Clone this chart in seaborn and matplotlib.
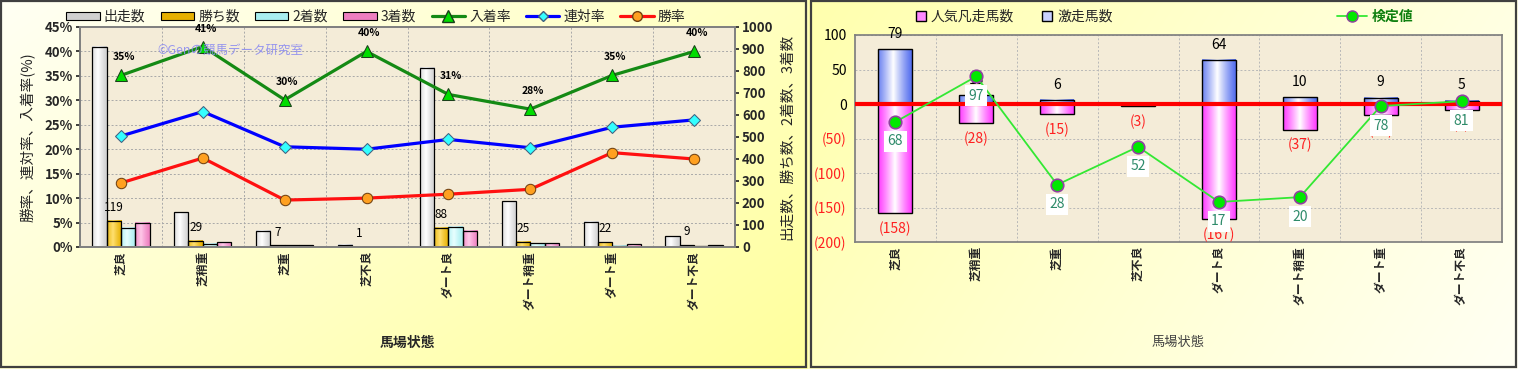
import numpy as np
import pandas as pd
import matplotlib
matplotlib.use("Agg")
import matplotlib.pyplot as plt
import seaborn as sns
from matplotlib.colors import to_rgb
from matplotlib.lines import Line2D
from matplotlib.patches import Patch, Rectangle
from matplotlib.ticker import FixedLocator

# ---------------- data ----------------
categories = ['芝良', '芝稍重', '芝重', '芝不良', 'ダート良', 'ダート稍重', 'ダート重', 'ダート不良']

bar_names = ['出走数', '勝ち数', '2着数', '3着数']
starts = [910, 159, 73, 10, 814, 209, 114, 50]
wins = [119, 29, 7, 1, 88, 25, 22, 9]
seconds = [88, 15, 8, 1, 91, 17, 6, 4]
thirds = [111, 21, 7, 2, 73, 17, 12, 7]

place_rate = [35.1, 41.0, 30.1, 40.0, 31.2, 28.2, 35.1, 40.0]
quinella_rate = [22.7, 27.7, 20.5, 20.0, 22.0, 20.3, 24.5, 26.0]
win_rate = [13.1, 18.2, 9.6, 10.0, 10.8, 11.8, 19.3, 18.0]
place_labels = ['35%', '41%', '30%', '40%', '31%', '28%', '35%', '40%']

surge_counts = [79, 13, 6, 0, 64, 10, 9, 5]
flop_counts = [-158, -28, -15, -3, -167, -37, -16, -8]
test_values = [68, 97, 28, 52, 17, 20, 78, 81]
test_plot_y = [-26, 40, -117, -62, -142, -135, -3, 4]

# ---------------- style ----------------
sns.set_theme(style="white")
plt.rcParams['font.family'] = ['Noto Sans CJK JP', 'DejaVu Sans']
plt.rcParams['axes.unicode_minus'] = False

W, H = 1518, 369
fig = plt.figure(figsize=(W / 100, H / 100), dpi=100)

# background gradients
bg = fig.add_axes([0, 0, 1, 1], zorder=-10)
yy, xx = np.mgrid[0:H, 0:W]
white = np.array(to_rgb('#FFFFF4'))
yellow = np.array(to_rgb('#FFFF9C'))
g = np.zeros((H, W))
left = xx < 808
g[left] = np.clip((xx[left] / 806) * 0.6 + (yy[left] / 369) * 0.4, 0, 1)
right = ~left
g[right] = np.clip(1 - ((xx[right] - 810) / 708) * 0.75 - (yy[right] / 369) * 0.25, 0, 1) * 0.8
img = white[None, None, :] * (1 - g[..., None]) + yellow[None, None, :] * g[..., None]
bg.imshow(img, extent=[0, W, H, 0], aspect='auto')
bg.add_patch(Rectangle((1, 1), 805, 366, fill=False, edgecolor='#404040', lw=1.6))
bg.add_patch(Rectangle((811, 1), 705, 366, fill=False, edgecolor='#404040', lw=1.6))
bg.set_xlim(0, W)
bg.set_ylim(H, 0)
bg.axis('off')


def shade_bars(ax, patches, base, light, peak=0.4):
    base = np.array(to_rgb(base))
    light = np.array(to_rgb(light))
    t = np.linspace(0, 1, 80)
    f = np.clip(1 - np.abs(t - peak) / 0.6, 0, 1) ** 1.2
    row = (1 - f)[:, None] * base[None, :] + f[:, None] * light[None, :]
    im = row[None, :, :]
    for p in patches:
        x0, y0 = p.get_x(), p.get_y()
        w, h = p.get_width(), p.get_height()
        if h == 0:
            continue
        ax.imshow(im, extent=[x0, x0 + w, min(y0, y0 + h), max(y0, y0 + h)],
                  aspect='auto', interpolation='bilinear', zorder=p.get_zorder())
        p.set_facecolor('none')
        p.set_zorder(p.get_zorder() + 0.1)


# ---------------- left chart ----------------
ax_b = fig.add_axes([80 / W, 1 - 247 / H, 655 / W, 220 / H])
ax_b.set_facecolor('#F4ECD8')
bar_colors = ['#D0D0D0', '#E6B000', '#A8EEF0', '#EE7EC0']
bar_lights = ['#FFFFFF', '#FFE070', '#E8FFFF', '#FFC8E8']
df_bar = pd.DataFrame({
    '馬場状態': categories * 4,
    'series': np.repeat(bar_names, len(categories)),
    'value': starts + wins + seconds + thirds,
})
sns.barplot(data=df_bar, x='馬場状態', y='value', hue='series', hue_order=bar_names,
            palette=bar_colors, width=0.7, edgecolor='black', linewidth=0.9,
            errorbar=None, legend=False, ax=ax_b)
for cont, c, lc in zip(ax_b.containers, bar_colors, bar_lights):
    shade_bars(ax_b, cont.patches, c, lc)
ax_b.bar_label(ax_b.containers[1], labels=[str(v) for v in wins], padding=5,
               fontsize=8.5, color='black')

ax_l = ax_b.twinx()

ax_b.set_xlim(-0.5, len(categories) - 0.5)
ax_b.set_ylim(0, 1000)
ax_b.yaxis.tick_right()
ax_b.yaxis.set_label_position('right')
ax_b.set_yticks(np.arange(0, 1001, 100))
ax_b.set_yticklabels([str(v) for v in range(0, 1001, 100)], fontsize=9.5, fontweight='bold')
ax_b.yaxis.set_minor_locator(FixedLocator(np.arange(1, 9) * 1000 / 9))
ax_b.xaxis.set_minor_locator(FixedLocator(np.arange(0.5, len(categories) - 1, 1)))
ax_b.grid(which='minor', axis='both', color='#A8A8A8', linestyle=(0, (2, 2)), linewidth=0.7)
ax_b.grid(which='major', visible=False)
ax_b.set_axisbelow(True)
ax_b.tick_params(axis='y', which='minor', length=0)
ax_b.tick_params(axis='y', which='major', length=3, pad=2)
ax_b.tick_params(axis='x', which='both', length=0, pad=3)
ax_b.set_xticks(range(len(categories)))
ax_b.set_xticklabels(categories, rotation=90, fontsize=8.5, fontweight='bold', va='top')
ax_b.set_xlabel('馬場状態', fontsize=10, fontweight='bold')
ax_b.xaxis.set_label_coords(0.5, -(336 - 247) / 220)
ax_b.set_ylabel('出走数、勝ち数、2着数、3着数', fontsize=10.5, va='center')
ax_b.yaxis.set_label_coords((787 - 80) / 655, 0.5)
for s in ax_b.spines.values():
    s.set_color('#808080')

ax_l.yaxis.tick_left()
ax_l.yaxis.set_label_position('left')
xpos = np.arange(len(categories))
sns.lineplot(x=xpos, y=place_rate, ax=ax_l, color='#148A14', linewidth=2.3, marker='^',
             markersize=9, markerfacecolor='#00DD00', markeredgecolor='#1A401A', legend=False)
sns.lineplot(x=xpos, y=quinella_rate, ax=ax_l, color='#0000FF', linewidth=2.3, marker='D',
             markersize=6, markerfacecolor='#33FFFF', markeredgecolor='#406080', legend=False)
sns.lineplot(x=xpos, y=win_rate, ax=ax_l, color='#FF1010', linewidth=2.3, marker='o',
             markersize=7.5, markerfacecolor='#FFA020', markeredgecolor='#704010', legend=False)
for x, y, lab in zip(xpos, place_rate, place_labels):
    ax_l.annotate(lab, (x, y), xytext=(2, 13), textcoords='offset points', ha='center',
                  va='center', fontsize=7.5, fontweight='bold', color='black')
ax_l.set_ylim(0, 45)
ax_l.set_xlim(-0.5, len(categories) - 0.5)
ax_l.set_yticks(np.arange(0, 46, 5))
ax_l.set_yticklabels([f'{v}%' for v in range(0, 46, 5)], fontsize=9.5, fontweight='bold')
ax_l.tick_params(axis='y', length=3, pad=2)
ax_l.set_ylabel('勝率、連対率、入着率(%)', fontsize=10.5, va='center')
ax_l.yaxis.set_label_coords((28 - 80) / 655, 0.5)
for s in ax_l.spines.values():
    s.set_color('#808080')

fig.text(157 / W, 1 - 50 / H, '©Genの競馬データ研究室', color='#8C8CF0', fontsize=9,
         va='center', ha='left', alpha=0.9)

left_handles = [Patch(facecolor=c, edgecolor='black', linewidth=0.8) for c in bar_colors] + [
    Line2D([], [], color='#148A14', lw=2.3, marker='^', markersize=8, markerfacecolor='#00DD00',
           markeredgecolor='#1A401A'),
    Line2D([], [], color='#0000FF', lw=2.3, marker='D', markersize=5.5, markerfacecolor='#33FFFF',
           markeredgecolor='#406080'),
    Line2D([], [], color='#FF1010', lw=2.3, marker='o', markersize=7, markerfacecolor='#FFA020',
           markeredgecolor='#704010'),
]
fig.legend(left_handles, bar_names + ['入着率', '連対率', '勝率'], loc='center',
           bbox_to_anchor=(376 / W, 1 - 17 / H), ncol=7, frameon=False, fontsize=10,
           handlelength=2.4, handleheight=0.55, handletextpad=0.3, columnspacing=1.1)

# ---------------- right chart ----------------
ax_r = fig.add_axes([855 / W, 1 - 242 / H, 647 / W, 207 / H])
ax_r.set_facecolor('#F4ECD8')
sns.barplot(x=categories, y=surge_counts, color='#4A66EE', width=0.42, edgecolor='black',
            linewidth=1.0, errorbar=None, ax=ax_r)
sns.barplot(x=categories, y=flop_counts, color='#FF22FF', width=0.42, edgecolor='black',
            linewidth=1.0, errorbar=None, ax=ax_r)
shade_bars(ax_r, ax_r.containers[0].patches, '#4A66EE', '#FFFFFF', peak=0.45)
shade_bars(ax_r, ax_r.containers[1].patches, '#FF22FF', '#FFFFFF', peak=0.5)
ax_r.bar_label(ax_r.containers[0], labels=[str(v) if v else '' for v in surge_counts],
               padding=6, fontsize=10, color='black')
ax_r.bar_label(ax_r.containers[1], labels=[f'({abs(v)})' for v in flop_counts],
               padding=6, fontsize=10, color='#FF2020')
ax_r.axhline(0, color='#FF0000', lw=3, zorder=4)
sns.lineplot(x=np.arange(len(categories)), y=test_plot_y, ax=ax_r, color='#33E833', linewidth=1.3,
             marker='o', markersize=9, markerfacecolor='#00E800', markeredgecolor='#9040A0',
             markeredgewidth=1.2, zorder=5, legend=False)
for x, y, v in zip(range(len(categories)), test_plot_y, test_values):
    ax_r.annotate(str(v), (x, y), xytext=(0, -14), textcoords='offset points', ha='center',
                  va='center', fontsize=10, color='#2E8B6A', zorder=6,
                  bbox=dict(boxstyle='square,pad=0.25', facecolor='white', edgecolor='none'))
ax_r.set_xlim(-0.5, len(categories) - 0.5)
ax_r.set_ylim(-200, 100)
rticks = list(range(-200, 101, 50))
ax_r.set_yticks(rticks)
ax_r.set_yticklabels([f'({abs(v)})' if v < 0 else str(v) for v in rticks], fontsize=10)
for lab, v in zip(ax_r.get_yticklabels(), rticks):
    lab.set_color('#FF2020' if v < 0 else 'black')
ax_r.xaxis.set_minor_locator(FixedLocator(np.arange(0.5, len(categories) - 1, 1)))
ax_r.grid(which='minor', axis='x', color='#B8B8B8', linestyle=(0, (2, 2)), linewidth=0.7)
ax_r.grid(which='major', axis='y', color='#B8B8B8', linestyle=(0, (2, 2)), linewidth=0.7)
ax_r.grid(which='major', axis='x', visible=False)
ax_r.set_axisbelow(True)
ax_r.tick_params(axis='x', which='both', length=0, pad=3)
ax_r.tick_params(axis='y', length=3, pad=3)
ax_r.set_xticks(range(len(categories)))
ax_r.set_xticklabels(categories, rotation=90, fontsize=8.5, fontweight='bold', va='top')
ax_r.set_xlabel('馬場状態', fontsize=9.5, color='#404040')
ax_r.xaxis.set_label_coords(0.5, -(336 - 242) / 207)
ax_r.set_ylabel('')
for s in ax_r.spines.values():
    s.set_color('#808080')

right_handles = [
    Line2D([], [], linestyle='none', marker='s', markersize=7, markerfacecolor='#FF88FF',
           markeredgecolor='black'),
    Line2D([], [], linestyle='none', marker='s', markersize=7, markerfacecolor='#C8D0FF',
           markeredgecolor='black'),
]
fig.legend(right_handles, ['人気凡走馬数', '激走馬数'], loc='center',
           bbox_to_anchor=(1014 / W, 1 - 17 / H), ncol=2, frameon=False, fontsize=10,
           handlelength=0.8, handletextpad=0.3, columnspacing=2.0)
leg3 = fig.legend([Line2D([], [], color='#33E833', lw=1.3, marker='o', markersize=8,
                          markerfacecolor='#00E800', markeredgecolor='#9040A0')],
                  ['検定値'], loc='center', bbox_to_anchor=(1375 / W, 1 - 17 / H),
                  frameon=False, fontsize=10, handlelength=2.2, handletextpad=0.3)
for t in leg3.get_texts():
    t.set_color('#108010')
    t.set_fontweight('bold')

fig.savefig('out.png', dpi=100)
